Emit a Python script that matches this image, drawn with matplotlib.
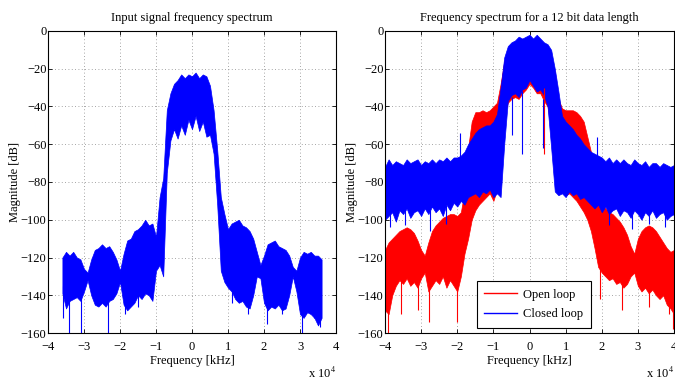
import numpy as np
import matplotlib
matplotlib.use('Agg')
import matplotlib.pyplot as plt
from matplotlib.lines import Line2D

plt.rcParams['font.family'] = ['Liberation Serif', 'DejaVu Serif']
plt.rcParams['mathtext.fontset'] = 'stix'
plt.rcParams['font.size'] = 9

# frequency grids (units of 1e4 Hz)
freq_in = [-3.6, -3.5, -3.4, -3.3, -3.2, -3.1, -3.0, -2.9, -2.8, -2.7,
           -2.6, -2.5, -2.4, -2.3, -2.2, -2.1, -2.0, -1.9, -1.8, -1.7,
           -1.6, -1.5, -1.4, -1.3, -1.2, -1.1, -1.0, -0.9, -0.8, -0.7,
           -0.6, -0.5, -0.4, -0.3, -0.2, -0.1, 0.0, 0.1, 0.2, 0.3,
           0.4, 0.5, 0.6, 0.7, 0.8, 0.9, 1.0, 1.1, 1.2, 1.3,
           1.4, 1.5, 1.6, 1.7, 1.8, 1.9, 2.0, 2.1, 2.2, 2.3,
           2.4, 2.5, 2.6, 2.7, 2.8, 2.9, 3.0, 3.1, 3.2, 3.3,
           3.4, 3.5, 3.6]
freq_out = [-4.0, -3.9, -3.8, -3.7, -3.6, -3.5, -3.4, -3.3, -3.2, -3.1,
            -3.0, -2.9, -2.8, -2.7, -2.6, -2.5, -2.4, -2.3, -2.2, -2.1,
            -2.0, -1.9, -1.8, -1.7, -1.6, -1.5, -1.4, -1.3, -1.2, -1.1,
            -1.0, -0.9, -0.8, -0.7, -0.6, -0.5, -0.4, -0.3, -0.2, -0.1,
            0.0, 0.1, 0.2, 0.3, 0.4, 0.5, 0.6, 0.7, 0.8, 0.9,
            1.0, 1.1, 1.2, 1.3, 1.4, 1.5, 1.6, 1.7, 1.8, 1.9,
            2.0, 2.1, 2.2, 2.3, 2.4, 2.5, 2.6, 2.7, 2.8, 2.9,
            3.0, 3.1, 3.2, 3.3, 3.4, 3.5, 3.6, 3.7, 3.8, 3.9,
            4.0]

# input spectrum: upper / lower edge of the noisy trace [dB]
input_hi = [-120, -117, -119, -117, -120, -121, -126, -128, -121, -116,
            -115, -113, -115, -114, -117, -121, -127, -118, -111, -110,
            -106, -105, -103, -100, -103, -102, -109, -88, -78, -42,
            -33, -28, -26, -23, -25, -23, -24, -22, -25, -23,
            -24, -29, -42, -63, -88, -97, -105, -102, -101, -100,
            -103, -104, -106, -110, -117, -124, -119, -113, -112, -111,
            -114, -115, -116, -119, -125, -127, -120, -117, -118, -117,
            -119, -119, -121]
input_lo = [-139, -147, -143, -142, -141, -143, -138, -132, -140, -145,
            -146, -144, -146, -143, -142, -139, -133, -145, -148, -146,
            -144, -140, -142, -139, -140, -143, -127, -124, -130, -75,
            -58, -52, -57, -50, -55, -47, -52, -45, -53, -48,
            -56, -55, -65, -92, -127, -133, -136, -138, -142, -144,
            -143, -146, -147, -140, -130, -131, -144, -148, -146, -147,
            -145, -148, -147, -140, -130, -138, -150, -152, -149, -150,
            -152, -156, -152]
input_spike_f = [-3.57, -3.43, -3.07, -2.33, -1.85, -1.5, 1.1, 1.55, 2.07, 2.5, 3.05, 3.4, 3.55]
input_spike_lo = [-152, -160, -160, -160, -150, -146, -144, -150, -155, -150, -160, -152, -157]
input_spike_hi = [-135, -135, -135, -140, -135, -130, -130, -135, -140, -135, -140, -140, -140]

# closed loop (blue)
closed_hi = [-72, -68, -71, -69, -70, -71, -68, -70, -69, -68,
             -71, -69, -70, -68, -70, -68, -69, -67, -69, -67,
             -67, -66, -64, -60, -57, -54, -52, -51, -50, -50,
             -48, -44, -30, -14, -8, -6, -5, -3, -4, -3,
             -2, -4, -2, -4, -6, -7, -10, -20, -32, -45,
             -48, -50, -52, -55, -57, -60, -62, -64, -65, -66,
             -67, -69, -67, -70, -68, -70, -68, -70, -71, -68,
             -70, -71, -69, -72, -70, -70, -72, -70, -71, -72,
             -71]
closed_lo = [-100, -98, -96, -101, -95, -97, -94, -99, -96, -95,
             -98, -94, -97, -93, -96, -94, -98, -92, -95, -91,
             -93, -90, -92, -88, -87, -86, -88, -85, -86, -84,
             -88, -86, -88, -60, -37, -34, -33, -35, -31, -30,
             -26, -29, -32, -31, -34, -40, -62, -85, -87, -86,
             -88, -85, -87, -86, -89, -88, -90, -92, -94, -92,
             -96, -93, -97, -95, -94, -98, -95, -96, -99, -95,
             -97, -100, -96, -98, -95, -99, -97, -96, -100, -98,
             -97]
closed_spike_f = [-3.85, -3.45, -2.75, -2.3, -1.92, -0.48, -0.21, 0.36, 1.88, 2.2, 2.84, 3.3, 3.76]
closed_spike_lo = [-104, -103, -106, -102, -85, -55, -65, -62, -85, -103, -105, -102, -104]
closed_spike_hi = [-95, -95, -95, -92, -54, -35, -32, -36, -56, -95, -97, -95, -97]

# open loop (red)
open_hi = [-116, -112, -110, -108, -106, -105, -104, -105, -107, -111,
           -116, -119, -112, -106, -103, -101, -99, -98, -97, -97,
           -98, -96, -85, -62, -48, -43, -43, -42, -43, -42,
           -40, -38, -28, -16, -10, -8, -7, -6, -5, -6,
           -4, -5, -4, -6, -8, -9, -13, -22, -36, -41,
           -42, -42, -42, -43, -45, -48, -56, -64, -88, -90,
           -92, -94, -96, -97, -99, -101, -104, -108, -114, -118,
           -110, -106, -104, -103, -104, -106, -109, -112, -115, -117,
           -116]
open_lo = [-148, -150, -140, -135, -132, -134, -131, -135, -133, -136,
           -131, -128, -138, -135, -132, -134, -130, -136, -132, -135,
           -138, -130, -118, -110, -100, -95, -92, -90, -88, -86,
           -90, -84, -70, -45, -38, -36, -35, -36, -33, -31,
           -28, -30, -33, -33, -37, -40, -52, -72, -82, -85,
           -87, -86, -88, -90, -93, -96, -100, -106, -115, -125,
           -128, -130, -132, -131, -134, -133, -136, -134, -130, -128,
           -135, -138, -136, -139, -137, -140, -142, -140, -145, -147,
           -150]
open_spike_f = [-3.92, -3.55, -3.1, -2.78, -2.02, 0.39, 1.95, 2.55, 3.3, 3.85, 3.98]
open_spike_lo = [-160, -150, -148, -154, -154, -65, -142, -148, -146, -150, -158]
open_spike_hi = [-135, -130, -130, -130, -130, -30, -125, -130, -130, -135, -140]


def draw_trace(ax, f, hi, lo, sf, slo, shi, color):
    ax.fill_between(f, lo, hi, color=color, lw=0.5, edgecolor=color)
    ax.vlines(sf, slo, shi, color=color, lw=0.8)


def style(ax, title):
    ax.set_xlim(-4, 4)
    ax.set_ylim(-160, 0)
    ax.set_xticks(range(-4, 5))
    ax.set_yticks(range(-160, 1, 20))
    ax.grid(True, linestyle=(0, (1, 3)), color='#888888', lw=0.6)
    ax.set_axisbelow(True)
    ax.tick_params(direction='in', top=True, right=True, length=3, width=0.6,
                   labelsize=9)
    ax.tick_params(axis='x', pad=6)
    ax.tick_params(axis='y', pad=1)
    for s in ax.spines.values():
        s.set_linewidth(0.8)
    ax.set_title(title, fontsize=9, pad=7)
    ax.set_xlabel('Frequency [kHz]', fontsize=9, labelpad=1)
    ax.set_ylabel('Magnitude [dB]', fontsize=9, labelpad=0)
    ax.text(1.0, -0.135, r'x 10$^{4}$', transform=ax.transAxes, fontsize=9,
            ha='right', va='center')


fig = plt.figure(figsize=(6.75, 3.8), dpi=100)
ax1 = fig.add_axes([48 / 675, 47 / 380, 288 / 675, 302 / 380])
ax2 = fig.add_axes([385 / 675, 47 / 380, 289 / 675, 302 / 380])

draw_trace(ax1, freq_in, input_hi, input_lo, input_spike_f, input_spike_lo, input_spike_hi, 'blue')
style(ax1, 'Input signal frequency spectrum')

draw_trace(ax2, freq_out, open_hi, open_lo, open_spike_f, open_spike_lo, open_spike_hi, 'red')
draw_trace(ax2, freq_out, closed_hi, closed_lo, closed_spike_f, closed_spike_lo, closed_spike_hi, 'blue')
style(ax2, 'Frequency spectrum for a 12 bit data length')

handles = [Line2D([], [], color='red', lw=1), Line2D([], [], color='blue', lw=1)]
leg = ax2.legend(handles, ['Open loop', 'Closed loop'], loc='lower left',
                 bbox_to_anchor=(0.318, 0.017), borderaxespad=0, fontsize=9,
                 fancybox=False, edgecolor='black', framealpha=1,
                 handlelength=2.6, handletextpad=0.5, labelspacing=0.6,
                 borderpad=0.6)
leg.get_frame().set_linewidth(0.8)

fig.savefig('out.png', dpi=100)
